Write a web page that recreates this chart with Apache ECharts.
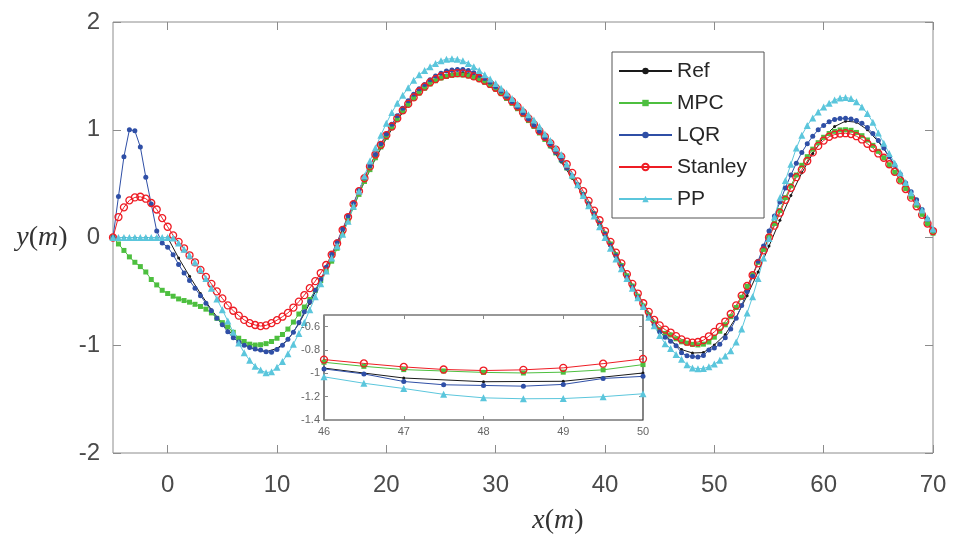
<!DOCTYPE html>
<html>
<head>
<meta charset="utf-8">
<script src="https://cdn.jsdelivr.net/npm/echarts@6/dist/echarts.min.js"></script>
<style>html,body{margin:0;padding:0;background:#fff}#c{width:953px;height:538px}</style>
</head>
<body>
<div id="c"></div>
<script>
// ---- data ----
const xs = [
 -5,-4.5,-4,-3.5,-3,-2.5,-2,-1.5,-1,-0.5,
 0,0.5,1,1.5,2,2.5,3,3.5,4,4.5,
 5,5.5,6,6.5,7,7.5,8,8.5,9,9.5,
 10,10.5,11,11.5,12,12.5,13,13.5,14,14.5,
 15,15.5,16,16.5,17,17.5,18,18.5,19,19.5,
 20,20.5,21,21.5,22,22.5,23,23.5,24,24.5,
 25,25.5,26,26.5,27,27.5,28,28.5,29,29.5,
 30,30.5,31,31.5,32,32.5,33,33.5,34,34.5,
 35,35.5,36,36.5,37,37.5,38,38.5,39,39.5,
 40,40.5,41,41.5,42,42.5,43,43.5,44,44.5,
 45,45.5,46,46.5,47,47.5,48,48.5,49,49.5,
 50,50.5,51,51.5,52,52.5,53,53.5,54,54.5,
 55,55.5,56,56.5,57,57.5,58,58.5,59,59.5,
 60,60.5,61,61.5,62,62.5,63,63.5,64,64.5,
 65,65.5,66,66.5,67,67.5,68,68.5,69,69.5,
 70];
const refX = [-5,-4,-3,-2,-1,0,1,2,3,4,5,6,7,8,9,10,11,12,13,14,15,16,17,18,19,20,21,22,23,24,25,26,27,28,29,30,31,32,33,34,35,36,37,38,39,40,41,42,43,44,45,46,47,48,49,50,51,52,53,54,55,56,57,58,59,60,61,62,63,64,65,66,67,68,69,70];
const refY = [0,0,0,0,0,0,-0.19,-0.36,-0.52,-0.67,-0.80,-0.91,-0.99,-1.04,-1.06,-1.03,-0.95,-0.80,-0.61,-0.40,-0.18,0.05,0.29,0.52,0.73,0.92,1.09,1.23,1.34,1.43,1.49,1.52,1.53,1.51,1.46,1.39,1.30,1.20,1.09,0.97,0.84,0.70,0.55,0.39,0.22,0.04,-0.15,-0.35,-0.54,-0.71,-0.85,-0.955,-1.04,-1.072,-1.068,-0.997,-0.90,-0.74,-0.54,-0.32,-0.08,0.16,0.39,0.60,0.78,0.93,1.03,1.08,1.07,1.00,0.89,0.75,0.58,0.41,0.24,0.07];
const mpcY = [
 0,-0.06,-0.12,-0.18,-0.23,-0.27,-0.32,-0.39,-0.44,-0.49,
 -0.52,-0.545,-0.57,-0.585,-0.60,-0.62,-0.64,-0.665,-0.70,-0.75,
 -0.79,-0.83,-0.88,-0.935,-0.965,-0.99,-0.998,-0.995,-0.985,-0.965,
 -0.935,-0.90,-0.85,-0.785,-0.71,-0.645,-0.575,-0.49,-0.40,-0.315,
 -0.22,-0.10,0.03,0.16,0.28,0.40,0.52,0.63,0.74,0.84,
 0.93,1.02,1.10,1.17,1.235,1.29,1.34,1.385,1.425,1.455,
 1.48,1.495,1.505,1.51,1.508,1.50,1.485,1.465,1.44,1.41,
 1.375,1.335,1.29,1.245,1.195,1.14,1.085,1.03,0.97,0.91,
 0.85,0.785,0.72,0.645,0.565,0.485,0.40,0.31,0.22,0.13,
 0.035,-0.06,-0.16,-0.26,-0.355,-0.45,-0.545,-0.635,-0.72,-0.795,
 -0.855,-0.89,-0.905,-0.94,-0.968,-0.98,-0.992,-0.997,-0.99,-0.97,
 -0.925,-0.87,-0.81,-0.735,-0.65,-0.555,-0.455,-0.345,-0.23,-0.11,
 0.01,0.13,0.25,0.37,0.48,0.58,0.67,0.75,0.82,0.88,
 0.93,0.965,0.985,0.998,1.0,0.995,0.975,0.945,0.905,0.855,
 0.80,0.74,0.675,0.605,0.53,0.455,0.375,0.30,0.215,0.13,
 0.04];
const lqrY = [
 0,0.38,0.75,1.0,0.99,0.84,0.56,0.31,0.06,-0.05,
 -0.09,-0.16,-0.25,-0.33,-0.40,-0.47,-0.54,-0.61,-0.68,-0.75,
 -0.81,-0.875,-0.93,-0.97,-1.0,-1.02,-1.035,-1.045,-1.06,-1.065,
 -1.04,-1.0,-0.945,-0.88,-0.79,-0.69,-0.595,-0.49,-0.39,-0.275,
 -0.155,-0.04,0.08,0.20,0.32,0.44,0.555,0.665,0.77,0.87,
 0.96,1.05,1.13,1.20,1.27,1.33,1.38,1.42,1.465,1.50,
 1.525,1.545,1.555,1.56,1.56,1.55,1.53,1.505,1.475,1.44,
 1.40,1.36,1.31,1.26,1.21,1.155,1.10,1.04,0.98,0.92,
 0.855,0.79,0.72,0.645,0.57,0.49,0.40,0.31,0.22,0.13,
 0.03,-0.07,-0.17,-0.27,-0.37,-0.46,-0.555,-0.645,-0.73,-0.81,
 -0.875,-0.925,-0.962,-1.005,-1.07,-1.098,-1.104,-1.11,-1.095,-1.044,
 -1.026,-0.99,-0.93,-0.85,-0.75,-0.63,-0.50,-0.36,-0.22,-0.08,
 0.06,0.20,0.33,0.46,0.58,0.69,0.79,0.87,0.94,1.0,
 1.04,1.075,1.095,1.105,1.106,1.10,1.085,1.06,1.02,0.965,
 0.90,0.83,0.75,0.67,0.59,0.505,0.425,0.35,0.26,0.17,
 0.07];
const stanleyY = [
 0,0.19,0.28,0.345,0.372,0.378,0.36,0.32,0.26,0.18,
 0.10,0.02,-0.04,-0.10,-0.165,-0.23,-0.30,-0.365,-0.43,-0.50,
 -0.565,-0.63,-0.68,-0.725,-0.765,-0.795,-0.812,-0.822,-0.815,-0.795,
 -0.767,-0.735,-0.70,-0.65,-0.595,-0.535,-0.47,-0.405,-0.33,-0.255,
 -0.16,-0.055,0.07,0.19,0.31,0.43,0.55,0.66,0.77,0.86,
 0.95,1.03,1.105,1.18,1.24,1.30,1.355,1.40,1.44,1.47,
 1.495,1.51,1.52,1.525,1.523,1.512,1.495,1.478,1.455,1.425,
 1.39,1.35,1.31,1.265,1.215,1.16,1.105,1.05,0.99,0.935,
 0.875,0.815,0.75,0.68,0.60,0.52,0.43,0.34,0.25,0.16,
 0.06,-0.04,-0.14,-0.24,-0.34,-0.43,-0.52,-0.61,-0.69,-0.765,
 -0.815,-0.855,-0.882,-0.915,-0.945,-0.967,-0.976,-0.97,-0.953,-0.917,
 -0.876,-0.83,-0.78,-0.71,-0.63,-0.54,-0.45,-0.35,-0.24,-0.12,
 0.0,0.11,0.23,0.35,0.46,0.56,0.63,0.71,0.79,0.85,
 0.90,0.935,0.955,0.965,0.968,0.96,0.94,0.91,0.87,0.83,
 0.78,0.74,0.68,0.61,0.53,0.45,0.37,0.29,0.21,0.13,
 0.06];
const ppY = [
 0,0,0,0,0,0,0,0,0,0,
 0,-0.005,-0.05,-0.11,-0.165,-0.23,-0.30,-0.38,-0.47,-0.57,
 -0.67,-0.775,-0.88,-0.98,-1.07,-1.14,-1.195,-1.23,-1.255,-1.245,
 -1.205,-1.15,-1.08,-0.99,-0.89,-0.79,-0.67,-0.55,-0.43,-0.31,
 -0.19,-0.08,0.03,0.15,0.29,0.43,0.57,0.71,0.83,0.95,
 1.06,1.16,1.245,1.32,1.39,1.46,1.51,1.55,1.585,1.615,
 1.64,1.655,1.66,1.655,1.64,1.615,1.585,1.55,1.51,1.47,
 1.43,1.385,1.34,1.29,1.24,1.19,1.14,1.09,1.03,0.96,
 0.90,0.83,0.77,0.68,0.58,0.49,0.39,0.295,0.20,0.10,
 0.0,-0.10,-0.20,-0.29,-0.38,-0.47,-0.56,-0.64,-0.74,-0.82,
 -0.91,-0.985,-1.03,-1.085,-1.13,-1.18,-1.21,-1.218,-1.216,-1.20,
 -1.175,-1.14,-1.10,-1.05,-0.97,-0.85,-0.70,-0.55,-0.38,-0.19,
 -0.01,0.19,0.37,0.53,0.68,0.83,0.95,1.04,1.11,1.165,
 1.21,1.245,1.275,1.295,1.30,1.29,1.26,1.21,1.15,1.07,
 0.97,0.875,0.78,0.69,0.60,0.51,0.415,0.33,0.255,0.18,
 0.08];
const seriesNames = ['Ref','MPC','LQR','Stanley','PP'];
const xTicks = [0,10,20,30,40,50,60,70];
const yTicks = [-2,-1,0,1,2];
const insetXTicks = [46,47,48,49,50];
const insetYTicks = [-1.4,-1.2,-1,-0.8,-0.6];

// ---- chart ----
const chart = echarts.init(document.getElementById('c'), null, {renderer:'canvas'});
const FONT = 'Liberation Sans';
const colors = {Ref:'#1a1a1a', MPC:'#4dbf3f', LQR:'#2f4fa6', Stanley:'#ee1c24', PP:'#5bc6dc'};
const sty = {
  Ref:{symbol:'circle', size:3},
  MPC:{symbol:'rect', size:5},
  LQR:{symbol:'circle', size:5},
  Stanley:{symbol:'circle', size:7},
  PP:{symbol:'triangle', size:7}
};
const xData = {Ref:refX, MPC:xs, LQR:xs, Stanley:xs, PP:xs};
const yData = {Ref:refY, MPC:mpcY, LQR:lqrY, Stanley:stanleyY, PP:ppY};

function makeSeries(name, xi, yi, z){
  const hollow = name === 'Stanley';
  return {
    name: name, type:'line', xAxisIndex:xi, yAxisIndex:yi, z:z,
    data: xData[name].map((x,i)=>[x, yData[name][i]]),
    symbol: sty[name].symbol, symbolSize: sty[name].size, showAllSymbol:true,
    clip:true, silent:true,
    lineStyle:{color:colors[name], width:1},
    itemStyle: hollow ? {color:'rgba(255,255,255,0)', borderColor:colors[name], borderWidth:1.3}
                      : {color:colors[name], borderWidth:0},
    emphasis:{disabled:true}
  };
}

const series = [];
seriesNames.forEach(n=>series.push(makeSeries(n,0,0,2)));
seriesNames.forEach(n=>series.push(makeSeries(n,2,2,12)));

const tickMain = {inside:true, length:8, lineStyle:{color:'#8c8c8c'}};
const tickInset = {inside:true, length:4, lineStyle:{color:'#888'}};
const noLine = {show:false, onZero:false};

const option = {
  animation:false,
  backgroundColor:'#fff',
  grid:[
    {left:113, right:20, top:22, bottom:85, show:true, borderColor:'#8c8c8c', borderWidth:1, backgroundColor:'transparent'},
    {left:324, top:315, width:319, height:105, show:true, borderColor:'#333', borderWidth:1.2, backgroundColor:'#fff', z:10}
  ],
  xAxis:[
    {type:'value', gridIndex:0, min:-5, max:70, position:'bottom', axisLine:noLine, splitLine:{show:false},
     axisTick:{...tickMain, customValues:xTicks},
     axisLabel:{customValues:xTicks, fontSize:24, color:'#4a4a4a', fontFamily:FONT, margin:20}},
    {type:'value', gridIndex:0, min:-5, max:70, position:'top', axisLine:noLine, splitLine:{show:false},
     axisTick:{...tickMain, customValues:xTicks},
     axisLabel:{show:false}},
    {type:'value', gridIndex:1, min:46, max:50, interval:1, position:'bottom', z:12,
     axisLine:noLine, splitLine:{show:false},
     axisTick:{...tickInset, customValues:insetXTicks},
     axisLabel:{customValues:insetXTicks, fontSize:11, color:'#666', fontFamily:FONT, margin:6}},
    {type:'value', gridIndex:1, min:46, max:50, interval:1, position:'top', z:12,
     axisLine:noLine, splitLine:{show:false},
     axisTick:{...tickInset, customValues:insetXTicks},
     axisLabel:{show:false}}
  ],
  yAxis:[
    {type:'value', gridIndex:0, min:-2, max:2, interval:1, position:'left', axisLine:noLine, splitLine:{show:false},
     axisTick:{...tickMain, customValues:yTicks},
     axisLabel:{customValues:yTicks, fontSize:24, color:'#4a4a4a', fontFamily:FONT, margin:13}},
    {type:'value', gridIndex:0, min:-2, max:2, interval:1, position:'right', axisLine:noLine, splitLine:{show:false},
     axisTick:{...tickMain, customValues:yTicks},
     axisLabel:{show:false}},
    {type:'value', gridIndex:1, min:-1.4, max:-0.5, interval:0.2, position:'left', z:12,
     axisLine:noLine, splitLine:{show:false},
     axisTick:{...tickInset, customValues:insetYTicks},
     axisLabel:{customValues:insetYTicks, fontSize:11, color:'#666', fontFamily:FONT, margin:4}},
    {type:'value', gridIndex:1, min:-1.4, max:-0.5, interval:0.2, position:'right', z:12,
     axisLine:noLine, splitLine:{show:false},
     axisTick:{...tickInset, customValues:insetYTicks},
     axisLabel:{show:false}}
  ],
  legend:{
    data:seriesNames, orient:'vertical', left:612, top:52,
    itemWidth:53, itemHeight:8, itemGap:10,
    padding:[8,17,8,6], borderColor:'#555', borderWidth:1, backgroundColor:'#fff',
    textStyle:{fontSize:21, color:'#262626', fontFamily:FONT, lineHeight:22},
    selectedMode:false, z:20
  },
  graphic:[
    {type:'text', x:42, y:238, z:30, style:{text:'{i|y}{n|(}{i|m}{n|)}', textAlign:'center', textVerticalAlign:'middle',
      rich:{i:{fontFamily:'Liberation Serif', fontStyle:'italic', fontSize:28, fill:'#333'}, n:{fontFamily:'Liberation Serif', fontSize:28, fill:'#333'}}}},
    {type:'text', x:558, y:521, z:30, style:{text:'{i|x}{n|(}{i|m}{n|)}', textAlign:'center', textVerticalAlign:'middle',
      rich:{i:{fontFamily:'Liberation Serif', fontStyle:'italic', fontSize:28, fill:'#333'}, n:{fontFamily:'Liberation Serif', fontSize:28, fill:'#333'}}}}
  ],
  series: series
};
chart.setOption(option);
</script>
</body>
</html>
